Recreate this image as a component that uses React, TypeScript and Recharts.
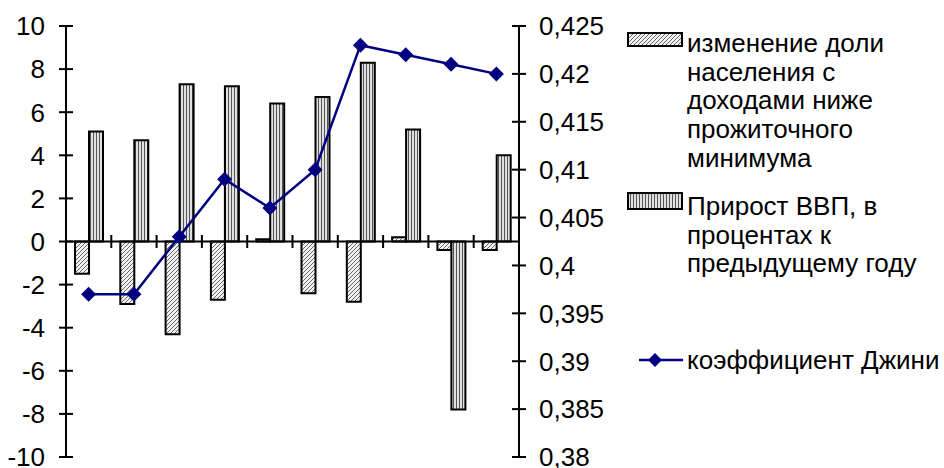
import { Bar, ComposedChart, Legend, Line, ReferenceLine, XAxis, YAxis } from 'recharts';

// 10 observations (years are not labelled on the original chart)
const categories = ['1', '2', '3', '4', '5', '6', '7', '8', '9', '10'];
const povertyShareChange = [-1.5, -2.9, -4.3, -2.7, 0.1, -2.4, -2.8, 0.2, -0.4, -0.4];
const gdpGrowth = [5.1, 4.7, 7.3, 7.2, 6.4, 6.7, 8.3, 5.2, -7.8, 4.0];
const gini = [0.397, 0.397, 0.403, 0.409, 0.406, 0.41, 0.423, 0.422, 0.421, 0.42];

const leftTicks = [-10, -8, -6, -4, -2, 0, 2, 4, 6, 8, 10];
const rightTicks = [0.38, 0.385, 0.39, 0.395, 0.4, 0.405, 0.41, 0.415, 0.42, 0.425];
const boundaryTicks = [1, 2, 3, 4, 5, 6, 7, 8, 9];

const seriesNames = {
    poverty: 'изменение доли населения с доходами ниже прожиточного минимума',
    gdp: 'Прирост ВВП, в процентах к предыдущему году',
    gini: 'коэффициент Джини',
};

const legendLines = {
    poverty: ['изменение доли', 'населения с', 'доходами ниже', 'прожиточного', 'минимума'],
    gdp: ['Прирост ВВП, в', 'процентах к', 'предыдущему году'],
};

const data = categories.map((c, i) => ({
    name: c,
    idx: i + 0.5,
    poverty: povertyShareChange[i],
    gdp: gdpGrowth[i],
    gini: gini[i],
}));

const FONT = '"Liberation Sans", Arial, sans-serif';
const FONT_SIZE = 26;
const NAVY = '#000080';
const TICK_HALF = 7;

// tick that crosses the axis on both sides
const makeTick = (side: 'left' | 'right', fmt: (v: number) => string) => (props: any) => {
    const { x, y, payload } = props;
    const axisX = side === 'left' ? x + 21 : x - 20;
    return (
        <g>
            <line x1={axisX - TICK_HALF} x2={axisX + TICK_HALF} y1={y} y2={y} stroke="#000" strokeWidth={2} />
            <text
                x={x}
                y={y}
                dy="0.36em"
                textAnchor={side === 'left' ? 'end' : 'start'}
                fontSize={FONT_SIZE}
                fontFamily={FONT}
                fill="#000"
            >
                {fmt(payload.value)}
            </text>
        </g>
    );
};

const Diamond = (props: any) => {
    const { cx, cy } = props;
    if (cx == null || cy == null) return null;
    const r = 7.5;
    return <path d={`M${cx},${cy - r}L${cx + r},${cy}L${cx},${cy + r}L${cx - r},${cy}Z`} fill={NAVY} />;
};

function LegendBox() {
    const text = { fontSize: FONT_SIZE, lineHeight: '28.7px', fontFamily: FONT, color: '#000', whiteSpace: 'nowrap' } as const;
    return (
        <div style={{ position: 'relative', width: 320, height: 360 }}>
            <svg width={60} height={20} style={{ position: 'absolute', left: 2, top: 11 }}>
                <rect x={1} y={1} width={54} height={13} fill="url(#hatchDiag)" stroke="#000" strokeWidth={2} />
            </svg>
            <div style={{ ...text, position: 'absolute', left: 62, top: 8 }}>
                {legendLines.poverty.map((l) => (
                    <div key={l}>{l}</div>
                ))}
            </div>
            <svg width={60} height={22} style={{ position: 'absolute', left: 2, top: 171 }}>
                <rect x={1} y={1} width={54} height={16} fill="url(#hatchVert)" stroke="#000" strokeWidth={2} />
            </svg>
            <div style={{ ...text, position: 'absolute', left: 62, top: 171 }}>
                {legendLines.gdp.map((l) => (
                    <div key={l}>{l}</div>
                ))}
            </div>
            <svg width={62} height={20} style={{ position: 'absolute', left: 14, top: 329 }}>
                <line x1={0} x2={44} y1={10} y2={10} stroke={NAVY} strokeWidth={2.5} />
                <path d="M16,3L23,10L16,17L9,10Z" fill={NAVY} />
            </svg>
            <div style={{ ...text, position: 'absolute', left: 62, top: 325 }}>{seriesNames.gini}</div>
        </div>
    );
}

export default function App() {
    const fmtRight = (v: number) => String(v).replace('.', ',');
    return (
        <div style={{ position: 'absolute', left: 0, top: 0, width: 944, height: 468, background: '#fff' }}>
            <ComposedChart
                width={944}
                height={468}
                data={data}
                margin={{ top: 26, right: 5, bottom: 11, left: 0 }}
                barSize={14}
                barGap={0}
            >
                <defs>
                    <pattern id="hatchDiag" patternUnits="userSpaceOnUse" width="4" height="4">
                        <rect width="4" height="4" fill="#f2f2f2" />
                        <path d="M-1,1 l2,-2 M0,4 l4,-4 M3,5 l2,-2" stroke="#444" strokeWidth="0.8" />
                    </pattern>
                    <pattern id="hatchVert" patternUnits="userSpaceOnUse" width="3" height="3">
                        <rect width="3" height="3" fill="#e0e0e0" />
                        <line x1="0.5" y1="0" x2="0.5" y2="3" stroke="#555" strokeWidth="1" />
                    </pattern>
                </defs>
                <XAxis dataKey="name" xAxisId="cat" hide />
                <XAxis dataKey="idx" xAxisId="grid" type="number" domain={[0, 10]} hide />
                <YAxis
                    yAxisId="left"
                    domain={[-10, 10]}
                    ticks={leftTicks}
                    interval={0}
                    width={66}
                    axisLine={{ stroke: '#000', strokeWidth: 2 }}
                    tickLine={false}
                    tickSize={7}
                    tickMargin={14}
                    tick={makeTick('left', (v) => String(v))}
                />
                <YAxis
                    yAxisId="right"
                    orientation="right"
                    domain={[0.38, 0.425]}
                    ticks={rightTicks}
                    interval={0}
                    width={100}
                    axisLine={{ stroke: '#000', strokeWidth: 2 }}
                    tickLine={false}
                    tickSize={7}
                    tickMargin={13}
                    tick={makeTick('right', fmtRight)}
                />
                <ReferenceLine yAxisId="left" xAxisId="grid" y={0} stroke="#000" strokeWidth={2} />
                {boundaryTicks.map((b) => (
                    <ReferenceLine
                        key={b}
                        yAxisId="left"
                        xAxisId="grid"
                        segment={[
                            { x: b, y: -0.3 },
                            { x: b, y: 0.3 },
                        ]}
                        stroke="#000"
                        strokeWidth={2}
                    />
                ))}
                <Bar
                    xAxisId="cat"
                    yAxisId="left"
                    dataKey="poverty"
                    name={seriesNames.poverty}
                    fill="url(#hatchDiag)"
                    stroke="#000"
                    strokeWidth={2}
                    isAnimationActive={false}
                />
                <Bar
                    xAxisId="cat"
                    yAxisId="left"
                    dataKey="gdp"
                    name={seriesNames.gdp}
                    fill="url(#hatchVert)"
                    stroke="#000"
                    strokeWidth={2}
                    isAnimationActive={false}
                />
                <Line
                    xAxisId="cat"
                    yAxisId="right"
                    type="linear"
                    dataKey="gini"
                    name={seriesNames.gini}
                    stroke={NAVY}
                    strokeWidth={2.5}
                    dot={<Diamond />}
                    activeDot={false}
                    isAnimationActive={false}
                />
                <Legend
                    layout="vertical"
                    align="right"
                    verticalAlign="top"
                    content={() => <LegendBox />}
                    wrapperStyle={{ left: 625, top: 21, width: 320, right: 'auto' }}
                />
            </ComposedChart>
        </div>
    );
}
